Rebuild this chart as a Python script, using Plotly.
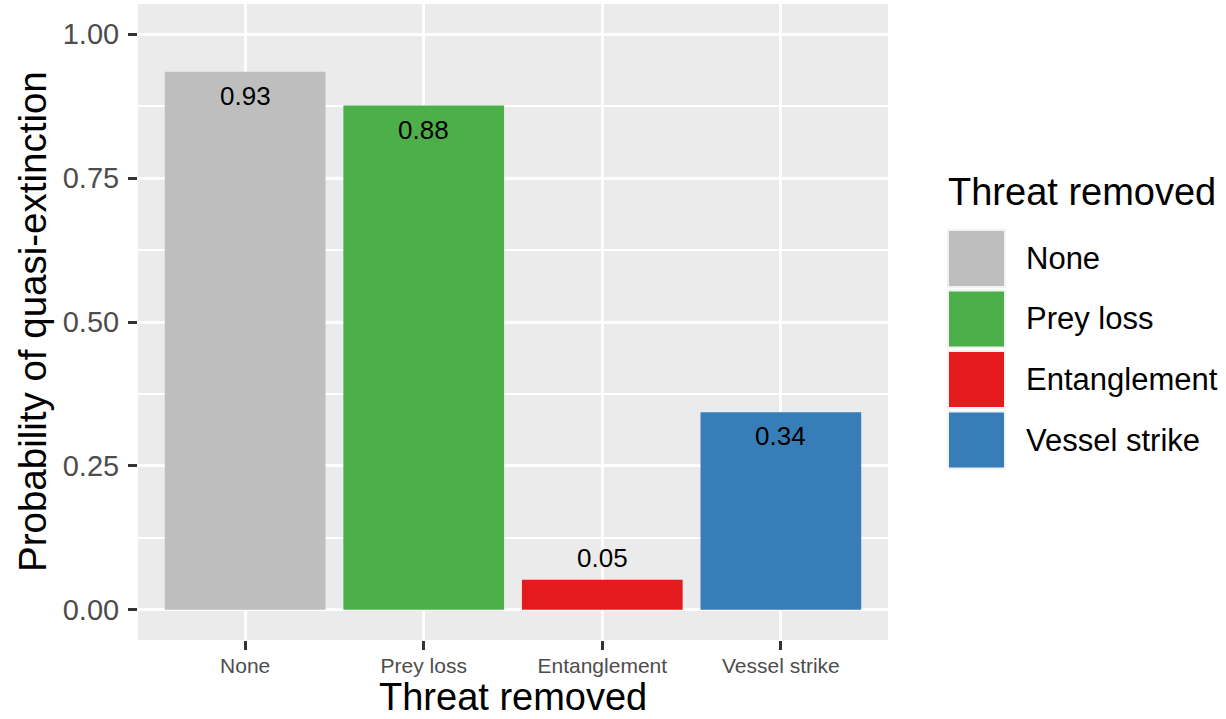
import plotly.graph_objects as go

categories = ["None", "Prey loss", "Entanglement", "Vessel strike"]
values = [0.935, 0.876, 0.052, 0.343]
labels = ["0.93", "0.88", "0.05", "0.34"]
colors = ["#BEBEBE", "#4DAF4A", "#E41A1C", "#377EB8"]
y_ticks = [0, 0.25, 0.5, 0.75, 1.0]
y_minor = [0.125, 0.375, 0.625, 0.875]

W, H = 1226, 719
L, R, T, B = 138, 338, 4, 79
PW, PH = W - L - R, H - T - B
FONT = "Liberation Sans, Arial, sans-serif"

def px_x(px):
    return (px - L) / PW

def px_y(py):
    return (H - B - py) / PH

fig = go.Figure()
fig.add_trace(go.Bar(
    x=categories, y=values, marker=dict(color=colors, line=dict(width=0)),
    width=0.9, showlegend=False, hoverinfo="x+y",
))

annotations = []
for c, v, lab in zip(categories, values, labels):
    annotations.append(dict(
        x=c, y=v, xref="x", yref="y", text=lab, showarrow=False,
        yanchor="middle", yshift=(22 if v < 0.1 else -24),
        font=dict(size=26, color="black", family=FONT),
    ))

# axis titles
annotations.append(dict(x=0.5, y=px_y(718.5), xref="paper", yref="paper",
                        text="Threat removed", showarrow=False, yanchor="bottom",
                        borderpad=0,
                        font=dict(size=38, color="black", family=FONT)))
annotations.append(dict(x=px_x(32), y=0.5, xref="paper", yref="paper",
                        text="Probability of quasi-extinction", showarrow=False,
                        textangle=-90, xanchor="center", yanchor="middle",
                        font=dict(size=38.5, color="black", family=FONT)))

# manual legend
annotations.append(dict(x=px_x(946), y=px_y(192), xref="paper", yref="paper",
                        text="Threat removed", showarrow=False, xanchor="left",
                        yanchor="middle", font=dict(size=38, color="black", family=FONT)))
shapes = []
key_top = 230
key_step = 60.5
key_size = 57
for i, (c, col) in enumerate(zip(categories, colors)):
    top = key_top + i * key_step
    shapes.append(dict(type="rect", xref="paper", yref="paper",
                       x0=px_x(948), x1=px_x(948 + key_size),
                       y0=px_y(top + key_size), y1=px_y(top),
                       fillcolor=col, line=dict(color="#F2F2F2", width=2)))
    annotations.append(dict(x=px_x(1024), y=px_y(top + key_size / 2), xref="paper",
                            yref="paper", text=c, showarrow=False, xanchor="left",
                            yanchor="middle", font=dict(size=31, color="black", family=FONT)))

fig.update_layout(
    width=W, height=H,
    margin=dict(l=L, r=R, t=T, b=B),
    paper_bgcolor="white", plot_bgcolor="#EBEBEB",
    font=dict(family=FONT),
    bargap=0.1,
    annotations=annotations, shapes=shapes,
    showlegend=False,
)
fig.update_xaxes(
    type="category", range=[-0.6, 3.6],
    showgrid=True, gridcolor="white", gridwidth=3,
    ticks="outside", ticklen=9, tickwidth=3, tickcolor="#333333",
    tickfont=dict(size=21, color="#4D4D4D", family=FONT),
    ticklabelstandoff=-2,
    showline=False, zeroline=False,
)
fig.update_yaxes(
    range=[-0.0525, 1.0525],
    tickvals=y_ticks, ticktext=[f"{t:.2f}" for t in y_ticks],
    showgrid=True, gridcolor="white", gridwidth=3,
    minor=dict(tickvals=y_minor, showgrid=True, gridcolor="white", gridwidth=1.5, ticks=""),
    ticks="outside", ticklen=9, tickwidth=3, tickcolor="#333333",
    tickfont=dict(size=29, color="#4D4D4D", family=FONT),
    ticklabelstandoff=3,
    showline=False, zeroline=False,
)

fig.write_html(
    "out.html",
    config={"displayModeBar": False},
    post_script="document.body.style.margin='0';document.body.style.overflow='hidden';",
)
